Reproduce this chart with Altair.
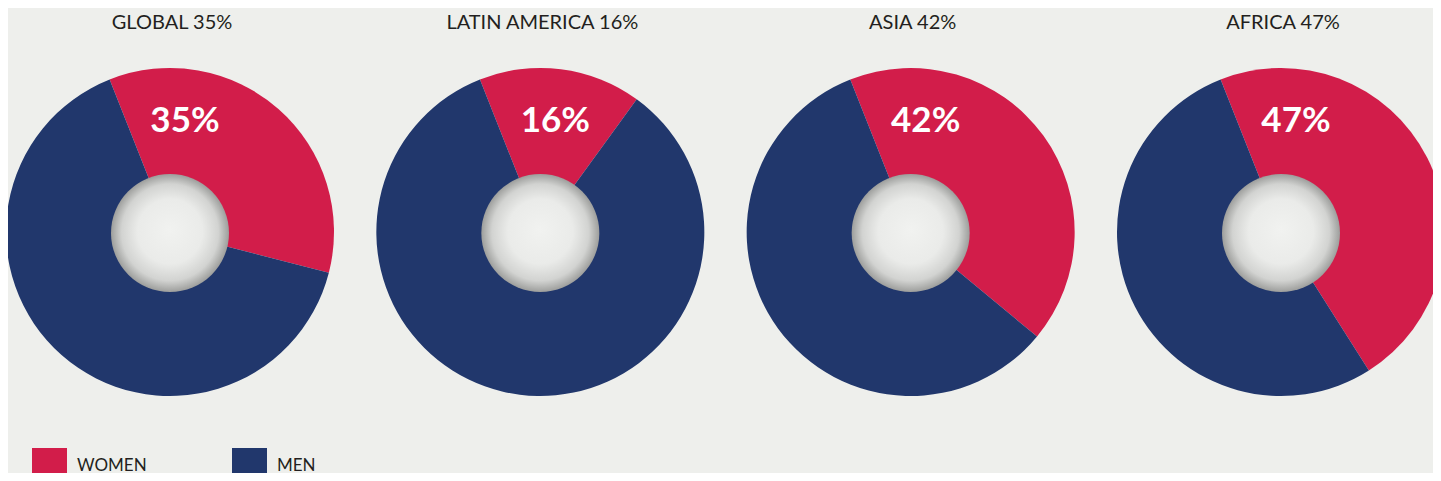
import math
import altair as alt
import pandas as pd

# ---- data ----
regions = ["GLOBAL", "LATIN AMERICA", "ASIA", "AFRICA"]
women = [35, 16, 42, 47]
men = [65, 84, 58, 53]
genders = ["WOMEN", "MEN"]
colors = ["#d21d4a", "#21376c"]

rows = []
for r, w, m in zip(regions, women, men):
    rows.append({"region": r, "gender": "WOMEN", "value": w, "order": 0})
    rows.append({"region": r, "gender": "MEN", "value": m, "order": 1})
df = pd.DataFrame(rows)
lab = pd.DataFrame({"region": regions, "women": women})

BG = "#eeefec"
TXT = "#231f20"
FONT = "Lato"

start = 2 * math.pi - 0.377
X = alt.X("region:N", axis=None,
          scale=alt.Scale(type="point", domain=regions, range=[162, 1273], padding=0))

pies = alt.Chart(df).transform_stack(
    stack="value", groupby=["region"], as_=["v0", "v1"],
    sort=[alt.SortField("order", order="ascending")]
).mark_arc(radius=164).encode(
    x=X,
    y=alt.value(224),
    theta=alt.Theta("v0:Q", scale=alt.Scale(domain=[0, 100], range=[start, start + 2 * math.pi])),
    theta2="v1:Q",
    color=alt.Color(
        "gender:N",
        scale=alt.Scale(domain=genders, range=colors),
        legend=alt.Legend(
            orient="none", legendX=24, legendY=440, direction="horizontal",
            symbolType="square", symbolSize=1225, symbolStrokeWidth=0,
            labelFontSize=17, labelFont=FONT, labelColor=TXT, labelOffset=10,
            columnPadding=85, padding=0, title=None, symbolOpacity=1,
        ),
    ),
)

grad = alt.Gradient(
    gradient="radial",
    stops=[
        alt.GradientStop(color="#f1f2f0", offset=0),
        alt.GradientStop(color="#eaebe9", offset=0.55),
        alt.GradientStop(color="#d2d3d1", offset=0.82),
        alt.GradientStop(color="#9d9e9c", offset=1),
    ],
    x1=0.5, y1=0.47, r1=0, x2=0.5, y2=0.5, r2=0.5,
)

hole = alt.Chart(lab).mark_arc(radius=59, theta=0, theta2=2 * math.pi, fill=grad).encode(
    x=X, y=alt.value(225)
)

pct = alt.Chart(lab).transform_calculate(
    t="datum.women + '%'"
).mark_text(font=FONT, fontWeight="bold", fontSize=35, color="white", dx=15,
            baseline="middle").encode(
    x=X, y=alt.value(113), text="t:N"
)

titles = alt.Chart(lab).transform_calculate(
    t="datum.region + ' ' + datum.women + '%'"
).mark_text(font=FONT, fontSize=20, color=TXT, dx=2, baseline="middle").encode(
    x=X, y=alt.value(15), text="t:N"
)

chart = alt.layer(pies, hole, pct, titles).properties(
    width=1425, height=465, background=BG, padding=0,
    autosize=alt.AutoSizeParams(type="none"),
).configure_view(stroke=None, fill=BG)

chart.save("out.html", embed_options={"renderer": "svg", "actions": False})
